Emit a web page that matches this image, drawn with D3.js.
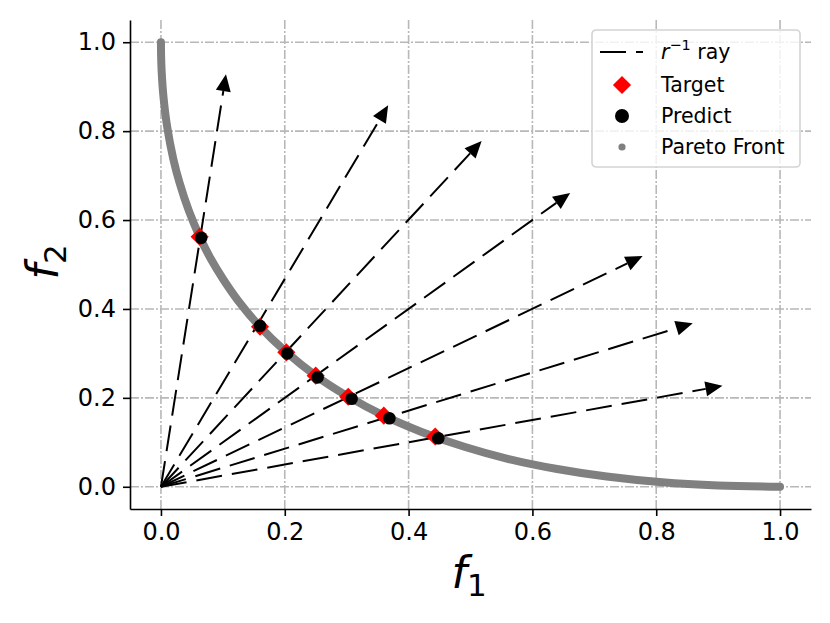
<!DOCTYPE html>
<html>
<head>
<meta charset="utf-8">
<script src="https://cdn.jsdelivr.net/npm/d3@7.9.0/dist/d3.min.js"></script>
<style>
  html, body { margin: 0; padding: 0; background: #fff; }
  svg { display: block; font-family: 'DejaVu Sans', sans-serif; }
</style>
</head>
<body>
<svg id="chart" width="830" height="623"></svg>
<script>
// values
const paretoF1 = [0, 0.0002, 0.001, 0.004, 0.01, 0.02, 0.03, 0.045, 0.0625, 0.08, 0.1, 0.125, 0.16, 0.2, 0.25, 0.3, 0.36, 0.42, 0.49, 0.56, 0.64, 0.72, 0.81, 0.9, 1.0];
const paretoF2 = [1.0, 0.972, 0.938, 0.878, 0.81, 0.737, 0.684, 0.621, 0.5625, 0.514, 0.468, 0.418, 0.36, 0.306, 0.25, 0.205, 0.16, 0.124, 0.09, 0.063, 0.04, 0.023, 0.01, 0.003, 0.0];

const targetF1 = [0.0625, 0.16, 0.2025, 0.25, 0.3025, 0.36, 0.443];
const targetF2 = [0.5625, 0.36, 0.3025, 0.25, 0.2025, 0.16, 0.113];

const predictF1 = [0.065, 0.16, 0.204, 0.253, 0.308, 0.369, 0.448];
const predictF2 = [0.56, 0.362, 0.3, 0.246, 0.198, 0.154, 0.109];

const rayEndF1 = [0.105, 0.367, 0.518, 0.661, 0.778, 0.859, 0.907];
const rayEndF2 = [0.928, 0.858, 0.778, 0.661, 0.519, 0.368, 0.227];

const tickValues = [0, 0.2, 0.4, 0.6, 0.8, 1.0];
const legendLabels = ['ray', 'Target', 'Predict', 'Pareto Front'];

const svg = d3.select('#chart');

const x = d3.scaleLinear().domain([-0.05, 1.05]).range([130, 811]);
const y = d3.scaleLinear().domain([-0.05, 1.05]).range([509, 20]);

// grid
const grid = svg.append('g')
  .attr('stroke', '#b8b8b8')
  .attr('stroke-width', 1.6)
  .attr('stroke-dasharray', '9 2 2 2');

grid.selectAll('line.vx')
  .data(tickValues)
  .join('line')
  .attr('x1', (d) => x(d))
  .attr('x2', (d) => x(d))
  .attr('y1', y.range()[0])
  .attr('y2', y.range()[1]);

grid.selectAll('line.hy')
  .data(tickValues)
  .join('line')
  .attr('x1', x.range()[0])
  .attr('x2', x.range()[1])
  .attr('y1', (d) => y(d))
  .attr('y2', (d) => y(d));

// axes
const xAxis = svg.append('g')
  .attr('transform', `translate(0,${y.range()[0]})`)
  .call(d3.axisBottom(x).tickValues(tickValues).tickFormat(d3.format('.1f'))
    .tickSize(7).tickPadding(7).tickSizeOuter(0));

const yAxis = svg.append('g')
  .attr('transform', `translate(${x.range()[0]},0)`)
  .call(d3.axisLeft(y).tickValues(tickValues).tickFormat(d3.format('.1f'))
    .tickSize(7).tickPadding(7).tickSizeOuter(0));

[xAxis, yAxis].forEach((axis) => {
  axis.attr('font-family', 'DejaVu Sans').attr('font-size', 24);
  axis.selectAll('path, line').attr('stroke', '#000').attr('stroke-width', 1.6);
  axis.selectAll('text').attr('fill', '#000');
});

// axis labels
svg.append('text')
  .attr('x', 469)
  .attr('y', 588)
  .attr('text-anchor', 'middle')
  .attr('font-size', 44)
  .html('<tspan font-style="italic">f</tspan><tspan font-size="31" dy="8">1</tspan>');

svg.append('text')
  .attr('transform', 'translate(58,262) rotate(-90)')
  .attr('text-anchor', 'middle')
  .attr('font-size', 44)
  .html('<tspan font-style="italic">f</tspan><tspan font-size="31" dy="8">2</tspan>');

// pareto front
const pareto = paretoF1.map((f1, i) => [f1, paretoF2[i]]);

svg.append('path')
  .datum(pareto)
  .attr('fill', 'none')
  .attr('stroke', '#808080')
  .attr('stroke-width', 8)
  .attr('stroke-linecap', 'round')
  .attr('stroke-linejoin', 'round')
  .attr('d', d3.line().x((d) => x(d[0])).y((d) => y(d[1])).curve(d3.curveCatmullRom));

// rays with arrow heads
const headLength = 17;
const headWidth = 15;

const rays = rayEndF1.map((f1, i) => {
  const x0 = x(0);
  const y0 = y(0);
  const x1 = x(f1);
  const y1 = y(rayEndF2[i]);
  const len = Math.hypot(x1 - x0, y1 - y0);
  const ux = (x1 - x0) / len;
  const uy = (y1 - y0) / len;
  const bx = x1 - ux * headLength;
  const by = y1 - uy * headLength;
  return { x0, y0, x1, y1, bx, by, ux, uy };
});

const rayGroup = svg.append('g');

rayGroup.selectAll('line')
  .data(rays)
  .join('line')
  .attr('x1', (d) => d.x0)
  .attr('y1', (d) => d.y0)
  .attr('x2', (d) => d.bx)
  .attr('y2', (d) => d.by)
  .attr('stroke', '#000')
  .attr('stroke-width', 2)
  .attr('stroke-dasharray', '26 10');

rayGroup.selectAll('polygon')
  .data(rays)
  .join('polygon')
  .attr('fill', '#000')
  .attr('points', (d) => {
    const px = -d.uy * headWidth / 2;
    const py = d.ux * headWidth / 2;
    return [[d.x1, d.y1], [d.bx + px, d.by + py], [d.bx - px, d.by - py]].join(' ');
  });

// targets and predictions
svg.append('g')
  .selectAll('path')
  .data(targetF1)
  .join('path')
  .attr('d', d3.symbol().type(d3.symbolSquare).size(165))
  .attr('transform', (d, i) => `translate(${x(d)},${y(targetF2[i])}) rotate(45)`)
  .attr('fill', '#ff0000');

svg.append('g')
  .selectAll('circle')
  .data(predictF1)
  .join('circle')
  .attr('cx', (d) => x(d))
  .attr('cy', (d, i) => y(predictF2[i]))
  .attr('r', 6.3)
  .attr('fill', '#000');

// legend
const legend = svg.append('g').attr('transform', 'translate(592,30)');

legend.append('rect')
  .attr('width', 208)
  .attr('height', 137)
  .attr('rx', 4)
  .attr('fill', '#fff')
  .attr('fill-opacity', 0.8)
  .attr('stroke', '#d4d4d4')
  .attr('stroke-width', 1.6);

const rowY = [22, 55, 86, 117];

legend.append('line')
  .attr('x1', 8)
  .attr('x2', 51)
  .attr('y1', rowY[0])
  .attr('y2', rowY[0])
  .attr('stroke', '#000')
  .attr('stroke-width', 2)
  .attr('stroke-dasharray', '26 10');

legend.append('path')
  .attr('d', d3.symbol().type(d3.symbolSquare).size(165))
  .attr('transform', `translate(30,${rowY[1]}) rotate(45)`)
  .attr('fill', '#ff0000');

legend.append('circle')
  .attr('cx', 30)
  .attr('cy', rowY[2])
  .attr('r', 7)
  .attr('fill', '#000');

legend.append('circle')
  .attr('cx', 30)
  .attr('cy', rowY[3])
  .attr('r', 3.6)
  .attr('fill', '#808080');

legend.selectAll('text.label')
  .data(legendLabels)
  .join('text')
  .attr('class', 'label')
  .attr('x', 69)
  .attr('y', (d, i) => rowY[i])
  .attr('dy', '0.36em')
  .attr('font-size', 20.5)
  .attr('fill', '#000')
  .each(function (d, i) {
    const t = d3.select(this);
    if (i === 0) {
      t.append('tspan').attr('font-style', 'italic').text('r');
      t.append('tspan').attr('font-size', 14.5).attr('dy', -9).text('\u22121');
      t.append('tspan').attr('dy', 9).text(' ' + d);
    } else {
      t.text(d);
    }
  });
</script>
</body>
</html>
